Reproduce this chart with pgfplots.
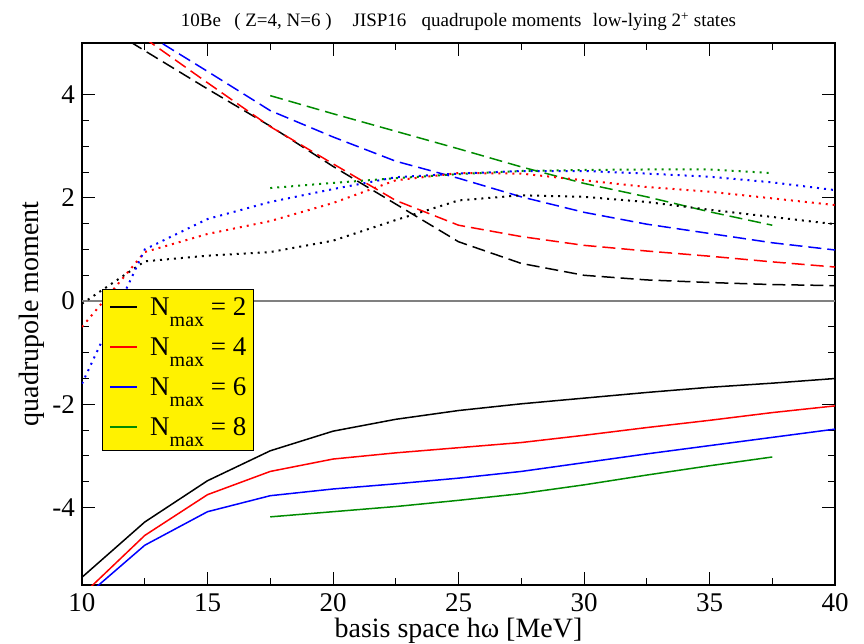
\documentclass[border=0pt]{standalone}
\usepackage{pgfplots}
\pgfplotsset{compat=1.18}
\usepackage{fontspec}
\setmainfont{Liberation Serif}
\definecolor{ggreen}{RGB}{0,139,0}
\newcommand{\Nmax}[1]{{\fontsize{27}{27}\selectfont N\raisebox{-11pt}{\fontsize{20}{20}\selectfont max} = #1}}
\begin{document}
\begin{tikzpicture}
\begin{axis}[
 scale only axis, width=753pt, height=542pt,
 xmin=10, xmax=40, ymin=-5.5, ymax=5,
 xtick={10,15,20,25,30,35,40}, xticklabels={10,15,20,25,30,35,40},
 ytick={-4,-2,0,2,4}, yticklabels={-4,-2,0,2,4},
 minor x tick num=1, minor y tick num=3,
 tick align=inside, major tick length=13pt, minor tick length=7pt,
 every tick/.append style={black, line width=1pt},
 axis line style={line width=1.5pt},
 ticklabel style={font=\fontsize{27}{27}\selectfont, inner sep=0pt},
 xticklabel style={yshift=-8pt},
 yticklabel style={xshift=-7pt},
 legend style={at={(0.0262,0.5456)}, anchor=north west, fill=yellow, draw=black, line width=1pt,
   row sep=0pt, column sep=12pt, inner xsep=7pt, inner ysep=0.5pt,
   nodes={inner sep=0.5pt, text height=25pt, text depth=14pt}},
 legend cell align=left,
 legend image code/.code={\draw[#1, line width=1.5pt] (0pt,3.5pt) -- (27pt,3.5pt);},
]
\addplot[gray, line width=1.2pt, forget plot] coordinates {(10,0) (40,0)};
% solid: lowest 2+ state
\addplot[black, line width=1.5pt] coordinates {(10,-5.35) (12.5,-4.28) (15,-3.48) (17.5,-2.90) (20,-2.52) (22.5,-2.29) (25,-2.12) (27.5,-1.99) (30,-1.88) (32.5,-1.77) (35,-1.67) (37.5,-1.59) (40,-1.50)};
\addlegendentry{\Nmax{2}}
\addplot[red, line width=1.5pt] coordinates {(10,-5.70) (12.5,-4.54) (15,-3.75) (17.5,-3.30) (20,-3.06) (22.5,-2.94) (25,-2.84) (27.5,-2.74) (30,-2.60) (32.5,-2.45) (35,-2.31) (37.5,-2.16) (40,-2.03)};
\addlegendentry{\Nmax{4}}
\addplot[blue, line width=1.5pt] coordinates {(10,-5.78) (12.5,-4.73) (15,-4.08) (17.5,-3.77) (20,-3.64) (22.5,-3.54) (25,-3.43) (27.5,-3.30) (30,-3.13) (32.5,-2.96) (35,-2.80) (37.5,-2.64) (40,-2.48)};
\addlegendentry{\Nmax{6}}
\addplot[ggreen, line width=1.5pt] coordinates {(17.5,-4.18) (20,-4.08) (22.5,-3.98) (25,-3.86) (27.5,-3.73) (30,-3.56) (32.5,-3.37) (35,-3.19) (37.5,-3.02)};
\addlegendentry{\Nmax{8}}
% dashed
\addplot[black, line width=1.5pt, dash pattern=on 13pt off 6pt, forget plot] coordinates {(10,5.6) (12.5,4.85) (15,4.11) (17.5,3.39) (20,2.61) (22.5,1.88) (25,1.15) (27.5,0.73) (30,0.50) (32.5,0.41) (35,0.36) (37.5,0.32) (40,0.30)};
\addplot[red, line width=1.5pt, dash pattern=on 13pt off 6pt, forget plot] coordinates {(10,5.95) (12.5,5.09) (15,4.23) (17.5,3.38) (20,2.66) (22.5,1.95) (25,1.47) (27.5,1.25) (30,1.08) (32.5,0.97) (35,0.87) (37.5,0.76) (40,0.66)};
\addplot[blue, line width=1.5pt, dash pattern=on 13pt off 6pt, forget plot] coordinates {(10,5.95) (12.5,5.2) (15,4.45) (17.5,3.69) (20,3.18) (22.5,2.71) (25,2.38) (27.5,2.02) (30,1.72) (32.5,1.49) (35,1.31) (37.5,1.13) (40,0.99)};
\addplot[ggreen, line width=1.5pt, dash pattern=on 13pt off 6pt, forget plot] coordinates {(17.5,3.98) (20,3.63) (22.5,3.29) (25,2.95) (27.5,2.60) (30,2.28) (32.5,2.02) (35,1.73) (37.5,1.47)};
% dotted
\addplot[black, line width=2pt, dash pattern=on 2pt off 5pt, forget plot] coordinates {(10,-0.05) (12.5,0.77) (15,0.88) (17.5,0.95) (20,1.17) (22.5,1.57) (25,1.95) (27.5,2.05) (30,2.02) (32.5,1.92) (35,1.77) (37.5,1.63) (40,1.49)};
\addplot[red, line width=2pt, dash pattern=on 2pt off 5pt, forget plot] coordinates {(10,-0.5) (12.5,0.95) (15,1.30) (17.5,1.55) (20,1.90) (22.5,2.34) (25,2.48) (27.5,2.47) (30,2.34) (32.5,2.21) (35,2.12) (37.5,1.99) (40,1.86)};
\addplot[blue, line width=2pt, dash pattern=on 2pt off 5pt, forget plot] coordinates {(10,-1.6) (12.5,1.0) (15,1.59) (17.5,1.92) (20,2.17) (22.5,2.40) (25,2.47) (27.5,2.52) (30,2.52) (32.5,2.47) (35,2.41) (37.5,2.30) (40,2.15)};
\addplot[ggreen, line width=2pt, dash pattern=on 2pt off 5pt, forget plot] coordinates {(17.5,2.19) (20,2.29) (22.5,2.38) (25,2.46) (27.5,2.52) (30,2.54) (32.5,2.55) (35,2.55) (37.5,2.48)};
\coordinate (SW) at (rel axis cs:0,0);
\coordinate (NE) at (rel axis cs:1,1);
\coordinate (S) at (rel axis cs:0.5,0);
\coordinate (N) at (rel axis cs:0.5,1);
\coordinate (W) at (rel axis cs:0,0.5);
\end{axis}
\node[anchor=base, font=\fontsize{19}{19}\selectfont] at ([yshift=16pt]N) {10Be\hspace{0.7em}( Z=4, N=6 )\hspace{1.1em}JISP16\hspace{0.8em}quadrupole moments\hspace{0.6em}low-lying 2\textsuperscript{+} states};
\node[anchor=base, font=\fontsize{28}{28}\selectfont] at ([yshift=-52pt]S) {basis space hω [MeV]};
\node[anchor=base, rotate=90, font=\fontsize{28}{28}\selectfont] at ([xshift=-43pt]W) {quadrupole moment};
\pgfresetboundingbox
\path[use as bounding box] ([xshift=-82pt,yshift=-58pt]SW) rectangle ([xshift=29pt,yshift=43pt]NE);
\end{tikzpicture}
\end{document}
